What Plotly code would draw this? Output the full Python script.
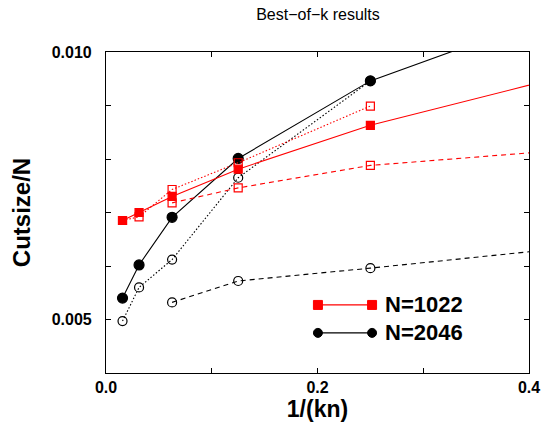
import plotly.graph_objects as go

# ---- data ----
x_all = [1/64, 1/32, 1/16, 1/8, 1/4, 1/2]
x_short = [1/64, 1/32, 1/16, 1/8, 1/4]
x_tail = [1/16, 1/8, 1/4, 1/2]

n1022_solid = [0.00685, 0.00700, 0.00730, 0.00781, 0.00863, 0.00988]
n1022_dotted = [0.00685, 0.00692, 0.00743, 0.00793, 0.00899]
n1022_dashed = [0.00718, 0.00746, 0.00788, 0.00827]

n2046_solid = [0.00540, 0.00602, 0.00691, 0.00801, 0.00946, 0.01124]
n2046_dotted = [0.00497, 0.00560, 0.00612, 0.00765, 0.00946]
n2046_dashed = [0.00532, 0.00572, 0.00596, 0.00647]

x_tickvals = [0.0, 0.1, 0.2, 0.3, 0.4]
x_ticktext = ["0.0", "", "0.2", "", "0.4"]
y_tickvals = [0.004, 0.005, 0.006, 0.007, 0.008, 0.009, 0.010]
y_ticktext = ["", "0.005", "", "", "", "", "0.010"]
legend_names = ["N=1022", "N=2046"]

RED = "#ff0000"
BLK = "#000000"
FONT = "Liberation Sans, Arial, sans-serif"
DASH = "5px,4px"
DOT = "1.5px,2px"

fig = go.Figure()

def add(x, y, color, dash, symbol, size):
    fig.add_trace(go.Scatter(
        x=x, y=y, mode="lines+markers",
        line=dict(color=color, width=1.1, dash=dash),
        marker=dict(symbol=symbol, size=size, color=color,
                    line=dict(color=color, width=1.2)),
        showlegend=False, cliponaxis=True))

# black series first
add(x_tail, n2046_dashed, BLK, DASH, "circle-open", 9)
add(x_short, n2046_dotted, BLK, DOT, "circle-open", 9)
add(x_all, n2046_solid, BLK, "solid", "circle", 10)
# red series
add(x_tail, n1022_dashed, RED, DASH, "square-open", 8)
add(x_short, n1022_dotted, RED, DOT, "square-open", 8)
add(x_all, n1022_solid, RED, "solid", "square", 8)

# manual legend (line with a marker at each end)
leg = [(legend_names[0], RED, "rect", 0.212), (legend_names[1], BLK, "circle", 0.125)]
shapes = []
annotations = []
x0, x1 = 0.501, 0.629
for name, col, shp, yy in leg:
    shapes.append(dict(type="line", xref="paper", yref="paper", x0=x0, x1=x1,
                       y0=yy, y1=yy, line=dict(color=col, width=1.2)))
    for xa in (x0, x1):
        shapes.append(dict(type=shp, xref="paper", yref="paper",
                           xsizemode="pixel", ysizemode="pixel",
                           xanchor=xa, yanchor=yy,
                           x0=-4.5, x1=4.5, y0=-4.5, y1=4.5,
                           fillcolor=col, line=dict(color=col, width=1)))
    annotations.append(dict(text=name, xref="paper", yref="paper", x=0.655, y=yy,
                            xanchor="left", yanchor="middle", showarrow=False,
                            font=dict(family=FONT, size=22, color="black", weight="bold")))

fig.update_layout(
    width=542, height=424,
    margin=dict(l=106, r=13, t=52, b=51),
    paper_bgcolor="white", plot_bgcolor="white",
    title=dict(text="Best\u2212of\u2212k results", x=318/542, xanchor="center",
               y=1 - 14/424, yanchor="middle",
               font=dict(family=FONT, size=16, color="black")),
    shapes=shapes, annotations=annotations,
    showlegend=False,
)
fig.update_xaxes(
    range=[0, 0.4], tickvals=x_tickvals, ticktext=x_ticktext,
    ticks="inside", ticklen=5, tickcolor="black", tickwidth=1,
    showline=True, linecolor="black", linewidth=1.2, mirror="ticks",
    showgrid=False, zeroline=False, automargin=False,
    tickfont=dict(family=FONT, size=16, color="black", weight="bold"),
    title=dict(text="1/(kn)", standoff=3,
               font=dict(family=FONT, size=23, color="black", weight="bold")),
)
fig.update_yaxes(
    range=[0.004, 0.010], tickvals=y_tickvals, ticktext=y_ticktext,
    ticks="inside", ticklen=5, tickcolor="black", tickwidth=1,
    showline=True, linecolor="black", linewidth=1.2, mirror="ticks",
    showgrid=False, zeroline=False, automargin=False, ticklabelstandoff=10,
    tickfont=dict(family=FONT, size=16, color="black", weight="bold"),
    title=dict(text="Cutsize/N", standoff=14,
               font=dict(family=FONT, size=24, color="black", weight="bold")),
)

fig.write_html("out.html")
